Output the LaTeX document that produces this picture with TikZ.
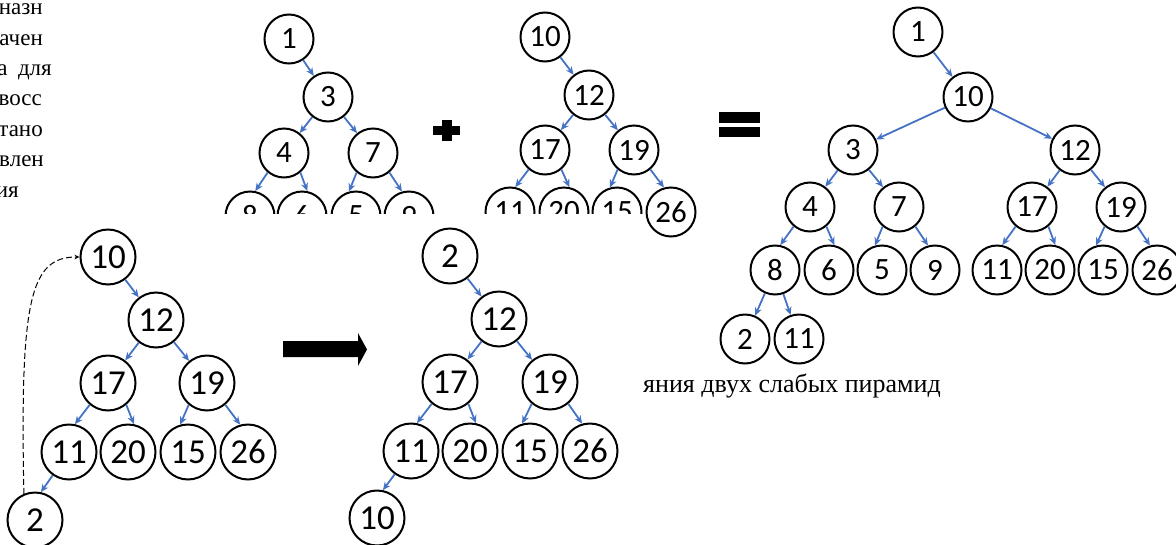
\documentclass[tikz,border=0pt]{standalone}
\usepackage{fontspec}
\setmainfont{Liberation Serif}
\newfontfamily\calibri{Carlito}
\usetikzlibrary{arrows.meta}
\definecolor{hblue}{HTML}{4472C4}

\begin{document}
\begin{tikzpicture}[x=1pt,y=-1pt]
	\tikzset{hnode/.style={circle, draw, line width=2pt, fill=white,
				minimum size=49pt, inner sep=0pt,
				font=\calibri\fontsize{31}{31}\selectfont}}
	\tikzset{hbig/.style={hnode, minimum size=55pt,
				font=\calibri\fontsize{35}{35}\selectfont}}
	\tikzset{hline/.style={line width=1.8pt, hblue, -{Stealth[length=8pt,width=7pt]}}}
	\tikzset{hdash/.style={line width=1pt, dash pattern=on 6pt off 3pt,
				-{Stealth[length=5pt,width=4.5pt]}}}
	\tikzset{htext/.style={anchor=base east, inner sep=0pt,
				font=\fontsize{23}{23}\selectfont}}

	\clip (0,0) rectangle (1176,544);

	% text on the left
	\node[htext] (t1) at (43,14) {назн};
	\node[htext] (t2) at (43,45) {ачен};
	\node[htext] (t3) at (52,75) {а\hspace{0.45em}для};
	\node[htext] (t4) at (42,105) {восс};
	\node[htext] (t5) at (43,136) {тано};
	\node[htext] (t6) at (44,166) {влен};
	\node[htext] (t7) at (19,197) {ия};

	% first heap
	\node[hnode] (a1) at (289,39) {1};
	\node[hnode] (a3) at (328,97) {3};
	\node[hnode] (a4) at (284,153) {4};
	\node[hnode] (a7) at (373,153) {7};

	% second heap
	\node[hnode] (b10) at (545,37) {10};
	\node[hnode] (b12) at (589,95) {12};
	\node[hnode] (b17) at (545,150) {17};
	\node[hnode] (b19) at (634,150) {19};
	\node[hnode] (b26) at (671,212) {26};

	\begin{scope}
		\clip (0,0) rectangle (700,213);
		\node[hnode] (a8) at (250,216) {8};
		\node[hnode] (a6) at (302,216) {6};
		\node[hnode] (a5) at (356,216) {5};
		\node[hnode] (a9) at (409,216) {9};
		\node[hnode] (b11) at (510,212) {11};
		\node[hnode] (b20) at (564,212) {20};
		\node[hnode] (b15) at (617,212) {15};
	\end{scope}

	\draw[hline] (a1) -- (a3);
	\draw[hline] (a3) -- (a4);
	\draw[hline] (a3) -- (a7);
	\draw[hline] (a4.-130) -- (a8.78);
	\draw[hline] (a4.-50) -- (a6.78);
	\draw[hline] (a7.-130) -- (a5.106);
	\draw[hline] (a7.-50) -- (a9.106);

	\draw[hline] (b10) -- (b12);
	\draw[hline] (b12) -- (b17);
	\draw[hline] (b12) -- (b19);
	\draw[hline] (b17.-130) -- (b11.78);
	\draw[hline] (b17.-50) -- (b20.78);
	\draw[hline] (b19.-130) -- (b15.106);
	\draw[hline] (b19.-50) -- (b26.106);

	% plus and equals
	\fill (433,126) rectangle (460,135);
	\fill (442,120) rectangle (452,141);
	\fill (719,112) rectangle (760,123);
	\fill (719,127) rectangle (760,137);

	% merged heap
	\node[hnode] (c1) at (918,32) {1};
	\node[hnode] (c10) at (968,97) {10};
	\node[hnode] (c3) at (853,150) {3};
	\node[hnode] (c12) at (1075,150) {12};
	\node[hnode] (c4) at (810,207) {4};
	\node[hnode] (c7) at (899,207) {7};
	\node[hnode] (c17) at (1032,207) {17};
	\node[hnode] (c19) at (1121,207) {19};
	\node[hnode] (c8) at (775,270) {8};
	\node[hnode] (c6) at (829,270) {6};
	\node[hnode] (c5) at (882,270) {5};
	\node[hnode] (c9) at (935,270) {9};
	\node[hnode] (c11) at (997,270) {11};
	\node[hnode] (c20) at (1050,270) {20};
	\node[hnode] (c15) at (1103,270) {15};
	\node[hnode] (c26) at (1157,270) {26};
	\node[hnode] (c2) at (745,339) {2};
	\node[hnode] (c11b) at (799,339) {11};

	\draw[hline] (c1) -- (c10);
	\draw[hline] (c10) -- (c3);
	\draw[hline] (c10) -- (c12);
	\draw[hline] (c3) -- (c4);
	\draw[hline] (c3) -- (c7);
	\draw[hline] (c12) -- (c17);
	\draw[hline] (c12) -- (c19);
	\draw[hline] (c4.-130) -- (c8.78);
	\draw[hline] (c4.-50) -- (c6.78);
	\draw[hline] (c7.-130) -- (c5.106);
	\draw[hline] (c7.-50) -- (c9.106);
	\draw[hline] (c17.-130) -- (c11.78);
	\draw[hline] (c17.-50) -- (c20.78);
	\draw[hline] (c19.-130) -- (c15.106);
	\draw[hline] (c19.-50) -- (c26.106);
	\draw[hline] (c8) -- (c2);
	\draw[hline] (c8) -- (c11b);

	\node[anchor=base west, inner sep=0pt, font=\fontsize{26}{26}\selectfont]
		(cap) at (643,392) {яния двух слабых пирамид};

	% heap before sifting
	\node[hbig] (d10) at (108,257) {10};
	\node[hbig] (d12) at (156,320) {12};
	\node[hbig] (d17) at (108,383) {17};
	\node[hbig] (d19) at (207,383) {19};
	\node[hbig] (d11) at (69,452) {11};
	\node[hbig] (d20) at (128,452) {20};
	\node[hbig] (d15) at (188,452) {15};
	\node[hbig] (d26) at (248,452) {26};
	\node[hbig] (d2) at (35,520) {2};

	\draw[hline] (d10) -- (d12);
	\draw[hline] (d12) -- (d17);
	\draw[hline] (d12) -- (d19);
	\draw[hline] (d17.-130) -- (d11.78);
	\draw[hline] (d17.-50) -- (d20.78);
	\draw[hline] (d19.-130) -- (d15.106);
	\draw[hline] (d19.-50) -- (d26.106);
	\draw[hline] (d11.-125) -- (d2.78);
	\draw[hdash] (d2.113) .. controls (20,300) and (30,257) .. (d10.west);

	% big arrow
	\fill (283,341) -- (358,341) -- (358,333) -- (367,349.5) -- (358,366)
		-- (358,357) -- (283,357) -- cycle;

	% heap after swap
	\node[hbig] (e2) at (450,256) {2};
	\node[hbig] (e12) at (499,319) {12};
	\node[hbig] (e17) at (450,382) {17};
	\node[hbig] (e19) at (550,382) {19};
	\node[hbig] (e11) at (411,451) {11};
	\node[hbig] (e20) at (470,451) {20};
	\node[hbig] (e15) at (530,451) {15};
	\node[hbig] (e26) at (590,451) {26};
	\node[hbig] (e10) at (377,518) {10};

	\draw[hline] (e2) -- (e12);
	\draw[hline] (e12) -- (e17);
	\draw[hline] (e12) -- (e19);
	\draw[hline] (e17.-130) -- (e11.78);
	\draw[hline] (e17.-50) -- (e20.78);
	\draw[hline] (e19.-130) -- (e15.106);
	\draw[hline] (e19.-50) -- (e26.106);
	\draw[hline] (e11.-125) -- (e10.78);
\end{tikzpicture}
\end{document}
